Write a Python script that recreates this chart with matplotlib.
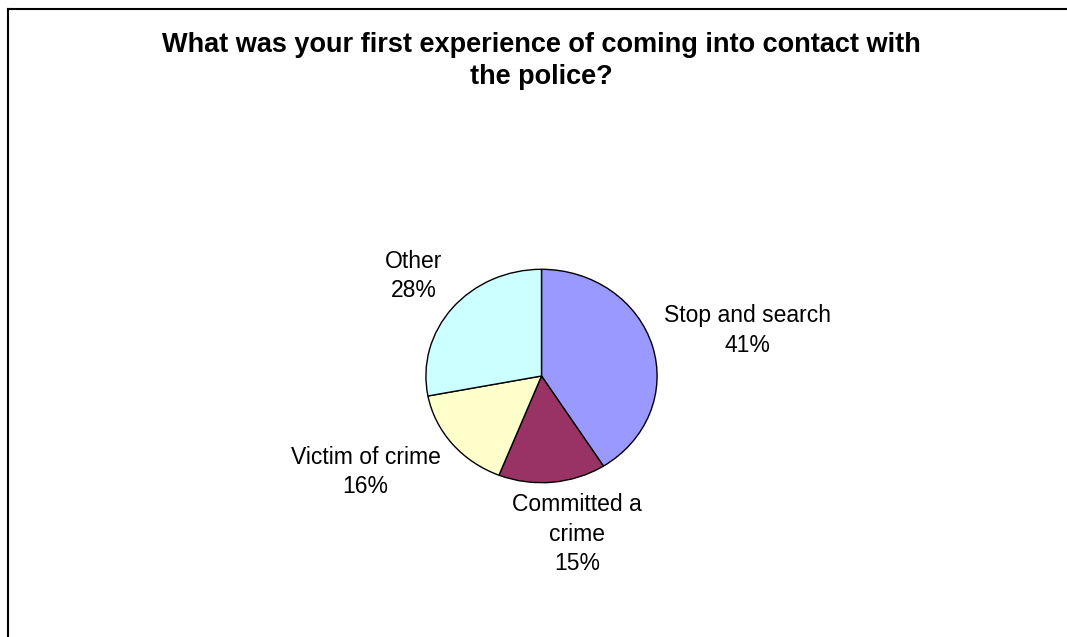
import matplotlib
matplotlib.use("Agg")
import matplotlib.pyplot as plt
from matplotlib.lines import Line2D

# survey answers, share of respondents (%)
categories = ["Stop and search", "Committed a\ncrime", "Victim of crime", "Other"]
shares = [41, 15, 16, 28]
colors = ["#9999FF", "#993366", "#FFFFCC", "#CCFFFF"]

title = "What was your first experience of coming into contact with\nthe police?"

plt.rcParams["font.family"] = ["Liberation Sans", "DejaVu Sans"]

W, H = 1067, 637
fig = plt.figure(figsize=(W / 100, H / 100), dpi=100)
fig.patch.set_facecolor("white")

# pie sits in its own axes; the axes box is a bit wider than tall so the pie is slightly oval
cx, cy, rx, ry = 541.5, 376, 115.6, 106.7
ax = fig.add_axes([(cx - rx) / W, (H - cy - ry) / H, 2 * rx / W, 2 * ry / H])
wedges, _ = ax.pie(
    shares,
    colors=colors,
    startangle=90,
    counterclock=False,
    wedgeprops=dict(edgecolor="black", linewidth=1.0),
)
ax.set_aspect("auto")
ax.set_xlim(-1, 1)
ax.set_ylim(-1, 1)
ax.axis("off")

# label anchors in the pie's own units (radius = 1)
label_xy = [(1.778, 0.426), (0.307, -1.481), (-1.522, -0.900), (-1.107, 0.937)]
for name, val, (lx, ly) in zip(categories, shares, label_xy):
    ax.text(lx, ly, f"{name}\n{val}%", ha="center", va="center",
            fontsize=16.5, linespacing=1.38, clip_on=False)

fig.text(541 / W, 1 - 61 / H, title, ha="center", va="center",
         fontsize=19.5, fontweight="bold", linespacing=1.3)

# chart frame (runs off the right and bottom edges)
fig.add_artist(Line2D([8.3 / W, 8.3 / W], [0, 1 - 9 / H], color="black", linewidth=1.5))
fig.add_artist(Line2D([8.3 / W, 1], [1 - 9 / H, 1 - 9 / H], color="black", linewidth=1.5))

fig.savefig("out.png", dpi=100)
